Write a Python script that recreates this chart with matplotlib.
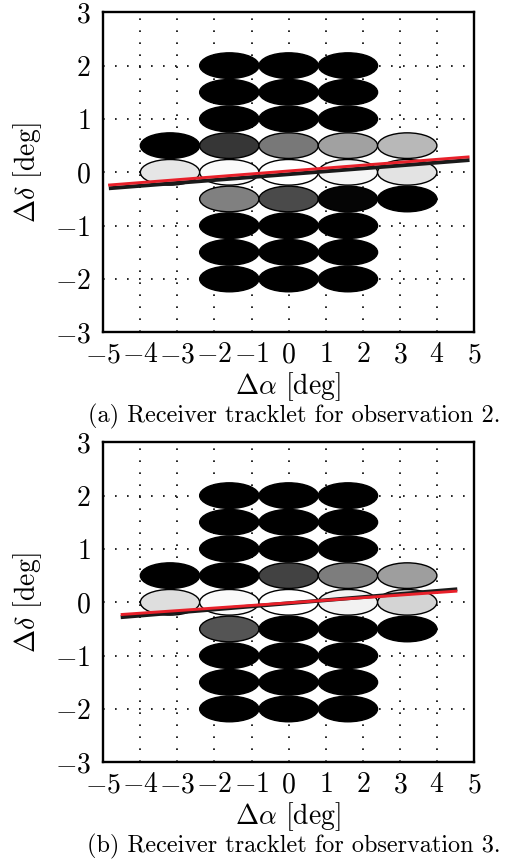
import numpy as np
import matplotlib
matplotlib.use("Agg")
import matplotlib.pyplot as plt
from matplotlib.patches import Ellipse

plt.rcParams['font.family'] = ['cmr10', 'DejaVu Serif']
plt.rcParams['mathtext.fontset'] = 'cm'
plt.rcParams['axes.unicode_minus'] = False

# ---- data ----
alpha_centers = [-3.2, -1.6, 0.0, 1.6, 3.2]
delta_rows = [2.0, 1.5, 1.0, 0.5, 0.0, -0.5, -1.0, -1.5, -2.0]
nan = np.nan
# gray level of each beam (0 = black, 1 = white); nan = no beam
shade_obs2 = [
    [nan, 0.0, 0.0, 0.0, nan],
    [nan, 0.0, 0.0, 0.0, nan],
    [nan, 0.0, 0.0, 0.0, nan],
    [0.0, 0.21, 0.47, 0.63, 0.72],
    [0.90, 0.98, 1.0, 0.96, 0.89],
    [nan, 0.50, 0.29, 0.02, 0.0],
    [nan, 0.0, 0.0, 0.0, nan],
    [nan, 0.0, 0.0, 0.0, nan],
    [nan, 0.0, 0.0, 0.0, nan],
]
shade_obs3 = [
    [nan, 0.0, 0.0, 0.0, nan],
    [nan, 0.0, 0.0, 0.0, nan],
    [nan, 0.0, 0.0, 0.0, nan],
    [0.0, 0.0, 0.26, 0.49, 0.62],
    [0.87, 0.98, 1.0, 0.95, 0.83],
    [nan, 0.33, 0.0, 0.0, 0.0],
    [nan, 0.0, 0.0, 0.0, nan],
    [nan, 0.0, 0.0, 0.0, nan],
    [nan, 0.0, 0.0, 0.0, nan],
]
beam_width = 1.6
beam_height = 0.48

# tracklet lines (black = estimate, red = truth)
black_x_obs2 = [-4.85, 4.88]
black_y_obs2 = [-0.30, 0.23]
red_x_obs2 = [-4.87, 4.88]
red_y_obs2 = [-0.24, 0.29]
black_x_obs3 = [-4.53, 4.55]
black_y_obs3 = [-0.28, 0.245]
red_x_obs3 = [-4.53, 4.55]
red_y_obs3 = [-0.23, 0.21]

x_ticks = [-5, -4, -3, -2, -1, 0, 1, 2, 3, 4, 5]
y_ticks = [-3, -2, -1, 0, 1, 2, 3]
captions = ["(a) Receiver tracklet for observation 2.",
            "(b) Receiver tracklet for observation 3."]

fig = plt.figure(figsize=(5.08, 8.65), dpi=100)

ax_rects = [[0.2033, 0.6158, 0.7297, 0.3700],
            [0.2033, 0.1187, 0.7297, 0.3700]]
caption_y = [0.518, 0.0212]

panels = [
    (shade_obs2, black_x_obs2, black_y_obs2, red_x_obs2, red_y_obs2),
    (shade_obs3, black_x_obs3, black_y_obs3, red_x_obs3, red_y_obs3),
]

for i, (shade, bx, by, rx, ry) in enumerate(panels):
    ax = fig.add_axes(ax_rects[i])
    ax.set_xlim(-5, 5)
    ax.set_ylim(-3, 3)
    ax.set_axisbelow(True)
    for xv in x_ticks[1:-1]:
        ax.axvline(xv, color='black', lw=1.2, ls=(0, (1, 6.2)), zorder=0)
    for yv in y_ticks[1:-1]:
        ax.axhline(yv, color='black', lw=1.2, ls=(0, (1, 6.2)), zorder=0)
    for r, dy in enumerate(delta_rows):
        for c, ax_c in enumerate(alpha_centers):
            g = shade[r][c]
            if np.isnan(g):
                continue
            e = Ellipse((ax_c, dy), beam_width, beam_height,
                        facecolor=(g, g, g), edgecolor='black', lw=1.0, zorder=2)
            ax.add_patch(e)
    ax.plot(bx, by, color='#1a1a1a', lw=2.8, solid_capstyle='butt', zorder=3)
    ax.plot(rx, ry, color='#e8202a', lw=2.1, solid_capstyle='butt', zorder=4)
    ax.set_xticks(x_ticks)
    ax.set_yticks(y_ticks)
    ax.set_xticklabels([f'${v}$' for v in x_ticks], fontsize=20)
    ax.set_yticklabels([f'${v}$' for v in y_ticks], fontsize=20)
    ax.tick_params(axis='y', length=0, pad=9)
    ax.tick_params(axis='x', length=0, pad=7)
    for s in ax.spines.values():
        s.set_linewidth(1.7)
    ax.set_xlabel(r'$\Delta\alpha$ [deg]', fontsize=20, va='center')
    ax.xaxis.set_label_coords(0.497, -0.170)
    ax.set_ylabel(r'$\Delta\delta$ [deg]', fontsize=20, va='center')
    ax.yaxis.set_label_coords(-0.203, 0.5)
    fig.text(0.579, caption_y[i], captions[i], fontsize=17.5, ha='center', va='center')

fig.savefig('out.png', dpi=100)
